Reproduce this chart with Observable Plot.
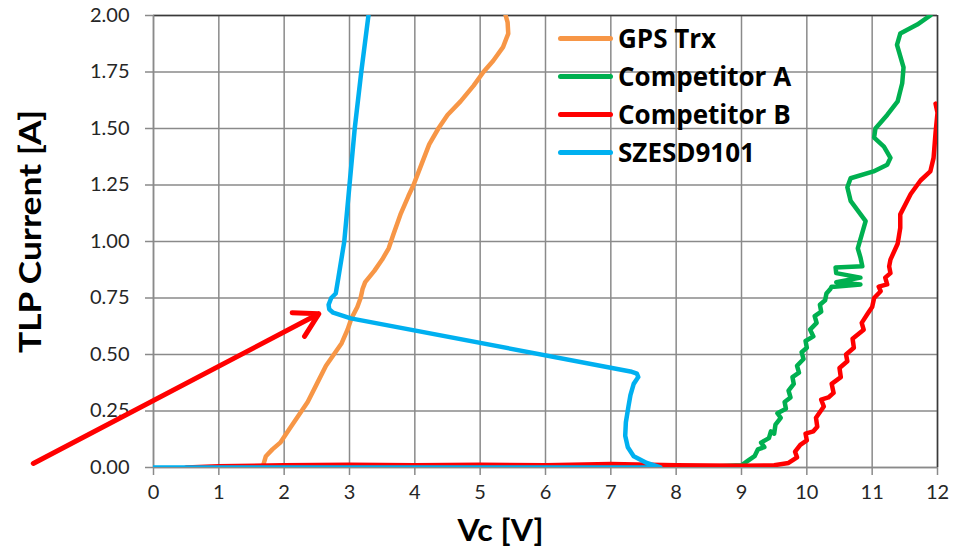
<!DOCTYPE html>
<html><head><meta charset="utf-8">
<script src="https://cdn.jsdelivr.net/npm/d3@7"></script>
<script src="https://cdn.jsdelivr.net/npm/@observablehq/plot@0.6"></script>
<style>
body{margin:0;background:#fff;}
#wrap{position:relative;width:955px;height:557px;overflow:hidden;}
#legend{position:absolute;left:558px;top:19px;font-family:"Open Sans",sans-serif;font-weight:bold;font-size:26px;color:#000;}
.row{display:flex;align-items:center;height:38px;white-space:nowrap;}
.sw{width:55px;height:5px;border-radius:3px;margin-right:5px;}
</style></head><body><div id="wrap"></div>
<script>
// ---- data ----
const seriesNames = ["GPS Trx", "Competitor A", "Competitor B", "SZESD9101"];
const seriesColors = ["#F79646", "#00B050", "#FF0000", "#00B0F0"];

const gpsV = [1.68,1.72,1.82,1.94,2.08,2.22,2.36,2.5,2.64,2.76,2.88,2.97,3.03,3.12,3.17,3.2,3.24,3.38,3.5,3.6,3.67,3.78,3.9,3.98,4.1,4.22,4.36,4.5,4.7,4.9,5.05,5.2,5.35,5.43,5.42,5.39];
const gpsI = [0.01,0.05,0.08,0.11,0.17,0.23,0.29,0.37,0.45,0.5,0.55,0.61,0.66,0.71,0.75,0.79,0.82,0.87,0.92,0.97,1.03,1.12,1.2,1.25,1.34,1.43,1.5,1.56,1.62,1.69,1.75,1.8,1.86,1.92,1.97,2.0];

const compAV = [7.8,8.5,9.0,9.1,9.2,9.25,9.35,9.3,9.42,9.45,9.5,9.52,9.6,9.55,9.68,9.66,9.75,9.72,9.8,9.78,9.88,9.85,9.95,9.92,10.0,9.98,10.1,10.05,10.15,10.12,10.22,10.2,10.28,10.3,10.36,10.38,10.42,10.82,10.45,10.82,10.45,10.44,10.85,10.82,10.78,10.9,10.67,10.62,10.67,11.02,11.23,11.28,11.18,11.03,11.05,11.23,11.39,11.46,11.48,11.38,11.43,11.69,11.89];
const compAI = [0,0.003,0.01,0.03,0.05,0.08,0.09,0.11,0.13,0.16,0.15,0.19,0.22,0.24,0.26,0.29,0.31,0.34,0.37,0.4,0.42,0.45,0.48,0.51,0.53,0.56,0.58,0.61,0.64,0.67,0.69,0.72,0.74,0.77,0.79,0.8,0.8,0.81,0.82,0.84,0.86,0.885,0.89,0.93,0.97,1.09,1.18,1.24,1.28,1.31,1.34,1.37,1.42,1.46,1.5,1.56,1.62,1.7,1.77,1.87,1.92,1.96,2.0];

const compBV = [0.5,1.0,2.0,3.0,4.0,5.0,6.0,7.0,8.0,9.0,9.5,9.72,9.85,9.82,9.9,10.0,9.98,10.1,10.16,10.14,10.26,10.22,10.33,10.41,10.38,10.52,10.5,10.62,10.6,10.72,10.7,10.87,10.84,10.93,11.0,11.03,11.13,11.1,11.23,11.2,11.28,11.26,11.28,11.39,11.43,11.43,11.59,11.74,11.89,11.94,11.97,12.0,11.97];
const compBI = [0.0,0.005,0.01,0.012,0.01,0.012,0.01,0.015,0.01,0.008,0.01,0.02,0.045,0.07,0.1,0.12,0.15,0.16,0.18,0.22,0.27,0.3,0.31,0.33,0.37,0.4,0.44,0.47,0.5,0.53,0.57,0.61,0.64,0.68,0.71,0.75,0.78,0.8,0.81,0.84,0.86,0.89,0.92,0.99,1.06,1.12,1.21,1.27,1.31,1.37,1.48,1.57,1.61];

const szesdV = [0,2,4,6,7,7.5,7.76,7.55,7.35,7.26,7.22,7.23,7.27,7.3,7.35,7.42,7.4,7.3,3.02,2.75,2.69,2.68,2.72,2.79,2.83,2.92,3.0,3.08,3.18,3.29];
const szesdI = [0,0,0,0,0,0,0,0.02,0.05,0.09,0.14,0.2,0.27,0.32,0.37,0.4,0.415,0.425,0.66,0.685,0.7,0.72,0.75,0.77,0.84,1.0,1.25,1.5,1.75,2.0];

const xTicks = [0,1,2,3,4,5,6,7,8,9,10,11,12];
const yTicks = [0,0.25,0.5,0.75,1.0,1.25,1.5,1.75,2.0];
const xTitle = "Vc [V]";
const yTitle = "TLP Current [A]";
// annotation arrow (data units)
const arrowFrom = [-1.84, 0.018];
const arrowTo = [2.53, 0.68];

// ---- build ----
const vs = [gpsV, compAV, compBV, szesdV];
const is = [gpsI, compAI, compBI, szesdI];
const rows = seriesNames.flatMap((s, k) => vs[k].map((v, j) => ({series: s, v, i: is[k][j]})));
const grid = {stroke: "#8a8a8a", strokeOpacity: 1, strokeWidth: 1.5};

const chart = Plot.plot({
  width: 955, height: 557,
  marginLeft: 153, marginRight: 18, marginTop: 15, marginBottom: 90,
  style: {fontFamily: "Lato, sans-serif", background: "#fff", overflow: "visible"},
  x: {domain: [0, 12]},
  y: {domain: [0, 2]},
  color: {domain: seriesNames, range: seriesColors},
  marks: [
    Plot.gridX(xTicks, grid),
    Plot.gridY(yTicks, grid),
    Plot.ruleY([2], {stroke: "#3a3a3a", strokeWidth: 1.5}),
    Plot.ruleX([12], {stroke: "#3a3a3a", strokeWidth: 1.5}),
    Plot.ruleX([0], {stroke: "#8a8a8a", strokeWidth: 1.5}),
    Plot.ruleY([0], {stroke: "#8a8a8a", strokeWidth: 1.5}),
    Plot.axisX(xTicks, {tickSize: 8, stroke: "#8a8a8a", strokeWidth: 1.5, tickPadding: 9, fontSize: 20, fill: "#262626", label: null, tickFormat: d => String(d)}),
    Plot.axisY(yTicks, {tickSize: 8, stroke: "#8a8a8a", strokeWidth: 1.5, tickPadding: 16, fontSize: 20, fill: "#262626", label: null, tickFormat: d3.format(".2f")}),
    Plot.line(rows, {x: "v", y: "i", z: "series", stroke: "series", strokeWidth: 4.5, strokeLinejoin: "round", strokeLinecap: "round", clip: true}),
    Plot.text([xTitle], {frameAnchor: "bottom", dx: -45, dy: 73, fontSize: 31, fontWeight: "bold", fill: "#000", className: "xtitle"}),
    Plot.text([yTitle], {frameAnchor: "left", textAnchor: "middle", dx: -122, dy: -10, rotate: -90, fontSize: 30, fontWeight: "bold", fill: "#000", className: "ytitle"}),
    Plot.arrow([{x1: arrowFrom[0], y1: arrowFrom[1], x2: arrowTo[0], y2: arrowTo[1]}], {x1: "x1", y1: "y1", x2: "x2", y2: "y2", stroke: "#FF0000", strokeWidth: 5, headLength: 8})
  ]
});
// stretch titles to the reference's text lengths
chart.querySelectorAll(".ytitle text").forEach(t => { t.setAttribute("textLength", 243); t.setAttribute("lengthAdjust", "spacingAndGlyphs"); });
chart.querySelectorAll(".xtitle text").forEach(t => { t.setAttribute("textLength", 86); t.setAttribute("lengthAdjust", "spacingAndGlyphs"); });
const wrap = document.getElementById("wrap");
wrap.appendChild(chart);
const leg = document.createElement("div");
leg.id = "legend";
seriesNames.forEach((s, k) => {
  const r = document.createElement("div"); r.className = "row";
  const sw = document.createElement("span"); sw.className = "sw"; sw.style.background = seriesColors[k];
  const t = document.createElement("span"); t.textContent = s;
  r.appendChild(sw); r.appendChild(t); leg.appendChild(r);
});
wrap.appendChild(leg);
</script></body></html>
